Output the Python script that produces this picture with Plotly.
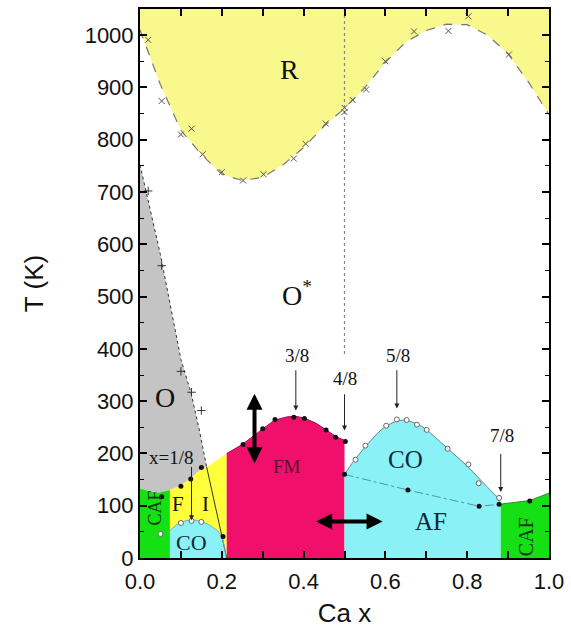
import plotly.graph_objects as go

# ---------------- data ----------------
# R / O* boundary curve
r_x = [0, 0.05, 0.1, 0.15, 0.2, 0.25, 0.3, 0.35, 0.4, 0.45, 0.5, 0.55, 0.6, 0.65, 0.7, 0.75, 0.8, 0.85, 0.9, 0.95, 1.0]
r_T = [1010, 905, 818, 772, 734, 722, 728, 752, 785, 826, 860, 900, 948, 987, 1009, 1021, 1020, 1000, 964, 910, 848]
# R transition points (crosses)
rp_x = [0.02, 0.053, 0.10, 0.126, 0.153, 0.2, 0.252, 0.302, 0.376, 0.405, 0.454, 0.5, 0.5, 0.52, 0.553, 0.60, 0.67, 0.754, 0.803, 0.902]
rp_T = [991, 874, 810, 821, 772, 738, 722, 734, 764, 792, 831, 853, 861, 876, 896, 950, 1007, 1008, 1036, 963]

# O / O* boundary (gray edge)
o_edge_x = [0.0, 0.05, 0.1, 0.125, 0.145, 0.163]
o_edge_T = [752, 580, 380, 315, 245, 174]
o_line_end_x = [0.163, 0.212]
o_line_end_T = [174, 0]
# O transition points (plus)
op_x = [0.02, 0.053, 0.10, 0.126, 0.15]
op_T = [702, 559, 357, 317, 282]
# lower boundary of O (towards CAF / FI)
o_low_x = [0.163, 0.146, 0.126, 0.1, 0.073, 0.04, 0.0]
o_low_T = [174, 168, 154, 139, 130, 124, 133]
# upper boundary of the FI region
fi_top_x = [0.073, 0.1, 0.126, 0.146, 0.163, 0.212]
fi_top_T = [130, 139, 154, 168, 174, 200]

# FM dome
fm_x = [0.212, 0.25, 0.3, 0.33, 0.36, 0.38, 0.4, 0.43, 0.455, 0.48, 0.5]
fm_T = [200, 217, 247, 264, 270, 271, 268, 258, 245, 232, 225]

# low-x CO dome
co1_x = [0.073, 0.09, 0.11, 0.13, 0.15, 0.17, 0.19, 0.2, 0.207, 0.21]
co1_T = [52, 64, 71, 73, 70, 63, 52, 40, 20, 0]

# high-x CO dome
co2_x = [0.5, 0.52, 0.55, 0.58, 0.6, 0.63, 0.65, 0.68, 0.7, 0.75, 0.8, 0.85, 0.882]
co2_T = [160, 183, 212, 238, 252, 263, 264, 256, 246, 211, 176, 135, 110]
# AF (Neel) line inside CO
af_x = [0.5, 0.655, 0.829, 0.882]
af_T = [160, 130, 99, 103]

# left and right CAF tops
caf1_x = [0.0, 0.04, 0.073]
caf1_T = [133, 124, 130]
caf2_x = [0.882, 0.92, 0.953, 1.0]
caf2_T = [103, 106, 110, 124]

# black dots
dot_x = [0.053, 0.1, 0.124, 0.15, 0.203, 0.252, 0.3, 0.33, 0.376, 0.402, 0.455, 0.478, 0.502, 0.5, 0.655, 0.829, 0.878, 0.953]
dot_T = [117, 137, 151, 173, 41, 217, 247, 265, 269, 267, 245, 231, 223, 160, 130, 99, 103, 109]
# open circles
oc_x = [0.05, 0.1, 0.126, 0.15, 0.527, 0.551, 0.602, 0.628, 0.652, 0.677, 0.701, 0.752, 0.803, 0.828, 0.878]
oc_T = [46, 67, 71, 69, 188, 215, 253, 265, 264, 255, 245, 209, 179, 143, 115]

# tick labels
x_ticks = [0.0, 0.2, 0.4, 0.6, 0.8, 1.0]
x_tick_text = ["0.0", "0.2", "0.4", "0.6", "0.8", "1.0"]
y_ticks = [0, 100, 200, 300, 400, 500, 600, 700, 800, 900, 1000]

T_TOP = 1050

# ---------------- figure ----------------
fig = go.Figure()

def poly(xs, ys, color):
    fig.add_trace(go.Scatter(x=xs, y=ys, mode="lines", fill="toself", fillcolor=color,
                             line=dict(width=0, color="rgba(0,0,0,0)"), hoverinfo="skip", showlegend=False))

def line(xs, ys, color, width=1, dash="solid"):
    fig.add_trace(go.Scatter(x=xs, y=ys, mode="lines", line=dict(color=color, width=width, dash=dash),
                             hoverinfo="skip", showlegend=False))

# R region
poly(r_x + [1.0, 0.0], r_T + [T_TOP, T_TOP], "#f8f88c")
# FI yellow
poly([0.073] + fi_top_x + [0.212], [0] + fi_top_T + [0], "#ffff3c")
# low CO dome
poly([0.073] + co1_x, [0] + co1_T, "#8af2f6")
# gray O region
poly(o_edge_x + o_low_x, o_edge_T + o_low_T, "#c4c4c4")
# left CAF
poly([0.0] + caf1_x + [0.073], [0] + caf1_T + [0], "#14e014")
# FM
poly([0.212] + fm_x + [0.5], [0] + fm_T + [0], "#f0106c")
# high CO / AF
poly([0.5] + co2_x + [0.882], [0] + co2_T + [0], "#8af2f6")
# right CAF
poly(caf2_x + [1.0, 0.882], caf2_T + [0, 0], "#14e014")

# boundary lines
line(r_x, r_T, "#777777", 1.2, "dash")
line(o_edge_x, o_edge_T, "#333333", 1, "dot")
line(o_line_end_x, o_line_end_T, "#333333", 1, "solid")
line(fm_x, fm_T, "#a01050", 1, "solid")
line(co2_x, co2_T, "#5a8a9a", 1, "solid")
line(af_x, af_T, "#4a9aa0", 1, "dashdot")
line(co1_x, co1_T, "#7ab0c0", 1, "solid")
line(caf2_x, caf2_T, "#2a8a2a", 1, "solid")
line([0.5, 0.5], [T_TOP, 390], "#888888", 1.2, "dot")

# data points
fig.add_trace(go.Scatter(x=rp_x, y=rp_T, mode="markers",
                         marker=dict(symbol="x-thin", size=6, line=dict(width=1, color="#555555")),
                         hoverinfo="skip", showlegend=False))
fig.add_trace(go.Scatter(x=op_x, y=op_T, mode="markers",
                         marker=dict(symbol="cross-thin", size=6, line=dict(width=1, color="#333333")),
                         hoverinfo="skip", showlegend=False))
fig.add_trace(go.Scatter(x=dot_x, y=dot_T, mode="markers",
                         marker=dict(symbol="circle", size=5, color="#111111"),
                         hoverinfo="skip", showlegend=False))
fig.add_trace(go.Scatter(x=oc_x, y=oc_T, mode="markers",
                         marker=dict(symbol="circle", size=5, color="white", line=dict(width=1, color="#666666")),
                         hoverinfo="skip", showlegend=False))

serif = "Liberation Serif, Times New Roman, serif"

def label(x, y, text, size, color="#111111", angle=0):
    fig.add_annotation(x=x, y=y, text=text, showarrow=False, textangle=angle,
                       font=dict(family=serif, size=size, color=color))

label(0.366, 935, "R", 28)
label(0.383, 505, "O<sup>*</sup>", 28)
label(0.062, 307, "O", 28)
label(0.359, 175, "FM", 19, "#5a1030")
label(0.65, 189, "CO", 25, "#0a2a3a")
label(0.712, 69, "AF", 25, "#0a2a3a")
label(0.127, 30, "CO", 22, "#0a2a3a")
label(0.093, 103, "F", 21)
label(0.159, 103, "I", 21)
label(0.037, 95, "CAF", 18, "#0a3a0a", -90)
label(0.944, 40, "CAF", 20, "#0a3a0a", -90)
label(0.383, 387, "3/8", 19)
label(0.5, 343, "4/8", 19)
label(0.63, 387, "5/8", 19)
label(0.885, 234, "7/8", 19)
label(0.078, 193, "x=1/8", 19)

def arrow(x, y, ax, ay, width=1, head=2, size=1, side="end", color="#222222"):
    fig.add_annotation(x=x, y=y, ax=ax, ay=ay, xref="x", yref="y", axref="x", ayref="y",
                       showarrow=True, arrowhead=head, arrowsize=size, arrowwidth=width,
                       arrowside=side, arrowcolor=color, text="")

arrow(0.381, 282, 0.381, 362)
arrow(0.5, 244, 0.5, 316)
arrow(0.628, 286, 0.628, 362)
arrow(0.882, 126, 0.882, 202)
arrow(0.126, 72, 0.126, 177)
arrow(0.28, 181, 0.28, 317, width=4, head=2, size=0.8, side="end+start", color="#000000")
arrow(0.593, 70, 0.427, 70, width=4, head=2, size=0.8, side="end+start", color="#000000")

sans = "Liberation Sans, Arial, sans-serif"
axis_font = dict(family=sans, size=22, color="#111111")
fig.update_xaxes(range=[0, 1], tickvals=x_ticks, ticktext=x_tick_text, ticks="inside", ticklen=7,
                 tickwidth=1.5, tickcolor="black", showline=True, linecolor="black", linewidth=2,
                 mirror="ticks", showgrid=False, zeroline=False, tickfont=axis_font,
                 ticklabelstandoff=3,
                 minor=dict(dtick=0.1, ticks="inside", ticklen=7, tickcolor="black", tickwidth=1.5),
                 title=dict(text="Ca x", font=dict(family=sans, size=26, color="#111111"),
                            standoff=10))
fig.update_yaxes(range=[0, T_TOP], tickvals=y_ticks, ticks="inside", ticklen=7, tickwidth=1.5,
                 tickcolor="black", showline=True, linecolor="black", linewidth=2, mirror="ticks",
                 showgrid=False, zeroline=False, tickfont=axis_font,
                 minor=dict(dtick=50, ticks="inside", ticklen=4, tickcolor="black", tickwidth=1.2),
                 title=dict(text="T (K)", font=dict(family=sans, size=26, color="#111111"),
                            standoff=34))

fig.update_layout(width=571, height=632, margin=dict(l=140, r=20, t=7, b=74),
                  plot_bgcolor="white", paper_bgcolor="white", showlegend=False)

fig.write_html("out.html")
